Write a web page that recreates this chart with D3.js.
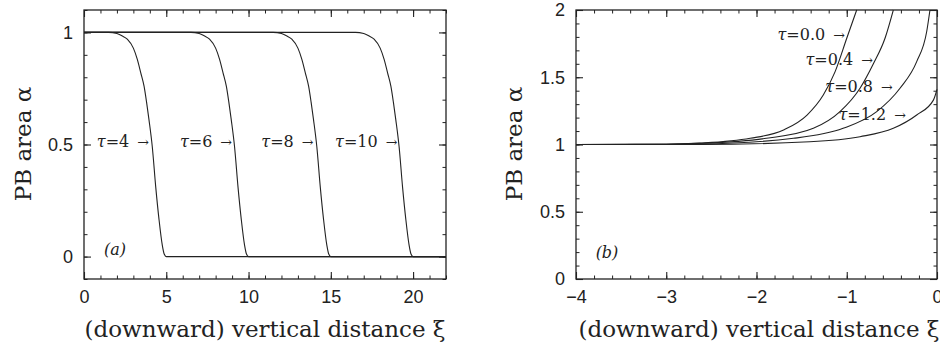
<!DOCTYPE html>
<html>
<head>
<meta charset="utf-8">
<script src="https://cdn.jsdelivr.net/npm/d3@7"></script>
<style>
  body { margin: 0; background: #fff; }
  .ttl { font-family: "DejaVu Serif", serif; fill: #222; }
  .lab { font-family: "DejaVu Serif", serif; font-size: 16px; fill: #222; }
</style>
</head>
<body>
<script>
// ---- data ----
// panel (a): PB area vs downward distance, one curve per tau
var tauA = ["4", "6", "8", "10"];
var curveTau4 = [[0,1],[1.5,1],[2.0,0.995],[2.3,0.985],[2.63,0.97],[3.0,0.93],[3.24,0.88],[3.45,0.82],[3.65,0.76],[3.8,0.69],[3.95,0.61],[4.15,0.49],[4.36,0.31],[4.56,0.165],[4.76,0.05],[4.88,0.01],[5,0],[22,0]];
var curveTau6 = [[0,1],[6.5,1],[7.0,0.995],[7.3,0.985],[7.63,0.97],[8.0,0.93],[8.24,0.88],[8.45,0.82],[8.65,0.76],[8.8,0.69],[8.95,0.61],[9.15,0.49],[9.36,0.31],[9.56,0.165],[9.76,0.05],[9.88,0.01],[10,0],[22,0]];
var curveTau8 = [[0,1],[11.5,1],[12.0,0.995],[12.3,0.985],[12.63,0.97],[13.0,0.93],[13.24,0.88],[13.45,0.82],[13.65,0.76],[13.8,0.69],[13.95,0.61],[14.15,0.49],[14.36,0.31],[14.56,0.165],[14.76,0.05],[14.88,0.01],[15,0],[22,0]];
var curveTau10 = [[0,1],[16.5,1],[17.0,0.995],[17.3,0.985],[17.63,0.97],[18.0,0.93],[18.24,0.88],[18.45,0.82],[18.65,0.76],[18.8,0.69],[18.95,0.61],[19.15,0.49],[19.36,0.31],[19.56,0.165],[19.76,0.05],[19.88,0.01],[20,0],[22,0]];
var labelPosA = [[3.95,0.515],[9.0,0.515],[13.95,0.515],[19.05,0.515]];

// panel (b): PB area near the top, one curve per tau
var tauB = ["0.0", "0.4", "0.8", "1.2"];
var curveTau00 = [[-4,1],[-3,1.002],[-2.63,1.01],[-2.07,1.046],[-1.7,1.108],[-1.44,1.219],[-1.26,1.368],[-1.13,1.54],[-1.0,1.79],[-0.89,2.0]];
var curveTau04 = [[-4,1],[-3,1.002],[-2.63,1.008],[-1.89,1.046],[-1.37,1.12],[-1.075,1.244],[-0.853,1.418],[-0.705,1.6],[-0.576,1.79],[-0.484,2.0]];
var curveTau08 = [[-4,1],[-3,1.001],[-2.63,1.003],[-1.59,1.046],[-1.04,1.12],[-0.668,1.244],[-0.41,1.418],[-0.225,1.616],[-0.114,1.84],[-0.078,2.0]];
var curveTau12 = [[-4,1],[-2.63,1.0],[-1.41,1.021],[-0.853,1.058],[-0.484,1.12],[-0.225,1.219],[-0.04,1.33],[0,1.41]];
var labelPosB = [[-1.02,1.82],[-0.71,1.63],[-0.49,1.43],[-0.345,1.225]];

var xTicksA = [0, 5, 10, 15, 20], xMinorA = d3.range(0, 23, 1);
var yTicksA = [0, 0.5, 1], yMinorA = d3.range(-0.1, 1.11, 0.1);
var xTicksB = [-4, -3, -2, -1, 0], xMinorB = d3.range(-4, 0.01, 0.2);
var yTicksB = [0, 0.5, 1, 1.5, 2], yMinorB = d3.range(0, 2.01, 0.1);

var W = 940, H = 345;
var svg = d3.select("body").append("svg").attr("width", W).attr("height", H);

function drawPanel(opt) {
  var x = d3.scaleLinear().domain(opt.xDomain).range([opt.left, opt.right]);
  var y = d3.scaleLinear().domain(opt.yDomain).range([opt.bottom, opt.top]);
  var g = svg.append("g");
  var fmt = function(d) { return String(d).replace("-", "\u2212"); };
  var blank = function() { return ""; };

  // minor and major ticks on all four sides, pointing in; labels only bottom/left
  var sides = [
    [d3.axisBottom, x, "translate(0," + opt.bottom + ")", opt.xMajor, opt.xMinor, true],
    [d3.axisTop, x, "translate(0," + opt.top + ")", opt.xMajor, opt.xMinor, false],
    [d3.axisLeft, y, "translate(" + opt.left + ",0)", opt.yMajor, opt.yMinor, true],
    [d3.axisRight, y, "translate(" + opt.right + ",0)", opt.yMajor, opt.yMinor, false]
  ];
  sides.forEach(function(s) {
    var minor = s[0](s[1]).tickValues(s[4]).tickSize(-3.5).tickFormat(blank);
    var major = s[0](s[1]).tickValues(s[3]).tickSize(-7).tickPadding(s[5] ? 11 : 0)
      .tickFormat(s[5] ? fmt : blank);
    var g1 = g.append("g").attr("transform", s[2]).call(minor);
    var g2 = g.append("g").attr("transform", s[2]).call(major);
    g1.select(".domain").remove();
    g2.select(".domain").remove();
    g1.selectAll("line").attr("stroke", "#222").attr("stroke-width", 1);
    g2.selectAll("line").attr("stroke", "#222").attr("stroke-width", 1.1);
    g2.selectAll("text").attr("font-family", "Liberation Sans, Arial, sans-serif")
      .attr("font-size", 18).attr("fill", "#222");
  });

  // frame
  g.append("rect").attr("x", opt.left).attr("y", opt.top)
    .attr("width", opt.right - opt.left).attr("height", opt.bottom - opt.top)
    .attr("fill", "none").attr("stroke", "#222").attr("stroke-width", 1.3);

  var path = d3.line().x(function(d) { return x(d[0]); }).y(function(d) { return y(d[1]); })
    .curve(d3.curveMonotoneX);
  opt.curves.forEach(function(c) {
    g.append("path").datum(c).attr("d", path)
      .attr("fill", "none").attr("stroke", "#222").attr("stroke-width", 1.1);
  });

  opt.labels.forEach(function(t, i) {
    var p = opt.labelPos[i];
    var tx = g.append("text").attr("class", "lab")
      .attr("x", x(p[0])).attr("y", y(p[1])).attr("dy", "0.35em")
      .attr("text-anchor", "end");
    tx.append("tspan").attr("font-style", "italic").text("\u03c4");
    tx.append("tspan").text("=" + t);
    tx.append("tspan").attr("dx", 8).attr("font-size", "14px").text("\u2192");
  });

  g.append("text").attr("class", "lab").attr("font-style", "italic")
    .attr("font-size", "11px")
    .attr("x", opt.left + 31).attr("y", y(opt.tagY)).attr("dy", "0.35em")
    .attr("text-anchor", "middle").text(opt.tag);

  g.append("text").attr("class", "ttl").attr("font-size", "23px")
    .attr("text-anchor", "middle")
    .attr("x", opt.titleX).attr("y", 337)
    .text("(downward) vertical distance \u03be");

  g.append("text").attr("class", "ttl").attr("font-size", "23px")
    .attr("text-anchor", "middle")
    .attr("transform", "translate(" + opt.yTitleX + "," + 144 + ") rotate(-90)")
    .text("PB area \u03b1");
}

drawPanel({
  left: 84, right: 446, top: 10, bottom: 279,
  xDomain: [0, 22], yDomain: [-0.1, 1.1],
  xMajor: xTicksA, xMinor: xMinorA, yMajor: yTicksA, yMinor: yMinorA,
  curves: [curveTau4, curveTau6, curveTau8, curveTau10],
  labels: tauA, labelPos: labelPosA,
  tag: "(a)", tagY: 0.03, titleX: 265, yTitleX: 31
});

drawPanel({
  left: 576, right: 937, top: 10, bottom: 279,
  xDomain: [-4, 0], yDomain: [0, 2],
  xMajor: xTicksB, xMinor: xMinorB, yMajor: yTicksB, yMinor: yMinorB,
  curves: [curveTau00, curveTau04, curveTau08, curveTau12],
  labels: tauB, labelPos: labelPosB,
  tag: "(b)", tagY: 0.2, titleX: 759, yTitleX: 522
});
</script>
</body>
</html>
